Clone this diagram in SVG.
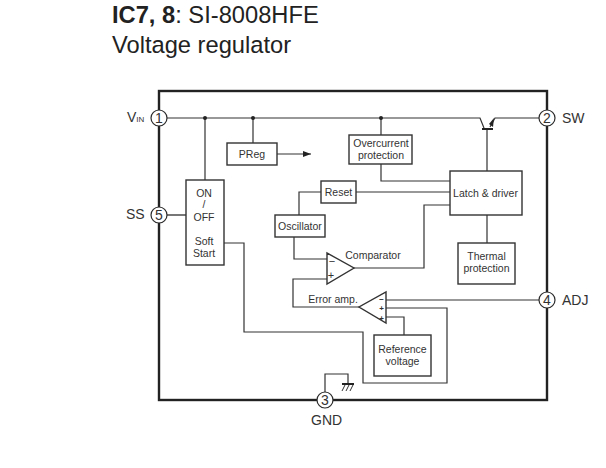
<svg xmlns="http://www.w3.org/2000/svg" width="606" height="468" viewBox="0 0 606 468">
<style>
text{font-family:"Liberation Sans",Arial,sans-serif;fill:#333}
.l{fill:none;stroke:#333;stroke-width:1.2}
.b{fill:#fff;stroke:#333;stroke-width:1.4}
.p{fill:#fff;stroke:#2a2a2a;stroke-width:1.2}
.t{font-size:10.500px;text-anchor:middle}
.n{font-size:14px;text-anchor:middle}
.s{font-size:14px}
.h{font-size:23.700px;fill:#222}
.g{font-size:11px;text-anchor:middle}
.e{font-size:8px;font-weight:bold;text-anchor:middle}
</style>
<rect width="606" height="468" fill="#fff"/>
<text class="h" x="112" y="23"><tspan font-weight="bold">IC7, 8</tspan>: SI-8008HFE</text>
<text class="h" x="112" y="53">Voltage regulator</text>
<g id="package"><rect x="159" y="91" width="388" height="309" fill="none" stroke="#222" stroke-width="2.400"/></g>
<g id="connectors">
<path class="l" d="M167 118H480L484 128M490 127L495 118H539M487 129V171M205 118V180M253 118V143M381 118V135M277 154H311M381 164V181H450M356 192H450M321 192H299V215M294 237V259H327M354 268H424V205H450M487 215V243M327 279H293V307H359M386 300H539M386 308H447V383H363V332H244V243H224M386 317H404V335M325 392V374H348V384"/>
<path d="M482 129H493" fill="none" stroke="#222" stroke-width="2"/>
<path d="M167 215H186" fill="none" stroke="#555" stroke-width="1.600"/>
<path d="M311 154L303 151V157Z" fill="#222"/>
<path d="M494 118L489 124L493 127Z" fill="#222"/>
<circle cx="205" cy="118" r="2" fill="#222"/><circle cx="253" cy="118" r="2" fill="#222"/><circle cx="381" cy="118" r="2" fill="#222"/>
<path d="M342 384H354" stroke="#222" stroke-width="2" fill="none"/>
<path d="M345 385L342 391M349 385L346 391M353 385L350 391" stroke="#333" fill="none"/>
</g>
<g id="pin1"><circle class="p" cx="159" cy="118" r="8"/><text class="n" x="159" y="123">1</text></g>
<g id="pin5"><circle class="p" cx="159" cy="215" r="8"/><text class="n" x="159" y="220">5</text></g>
<g id="pin2"><circle class="p" cx="547" cy="118" r="8"/><text class="n" x="547" y="123">2</text></g>
<g id="pin4"><circle class="p" cx="547" cy="300" r="8"/><text class="n" x="547" y="305">4</text></g>
<g id="pin3"><circle class="p" cx="325" cy="400" r="8"/><text class="n" x="325" y="405">3</text></g>
<g id="labels">
<text class="s" x="127" y="122">V<tspan font-size="8">IN</tspan></text>
<text class="s" x="126" y="219">SS</text>
<text class="s" x="562" y="123">SW</text>
<text class="s" x="562" y="305">ADJ</text>
<text class="s" x="311" y="425">GND</text>
</g>
<g id="onoff"><rect class="b" x="186" y="180" width="38" height="85"/>
<text class="t" x="204" y="197">ON</text><text class="t" x="204" y="208">/</text><text class="t" x="204" y="221">OFF</text><text class="t" x="204" y="245">Soft</text><text class="t" x="204" y="257">Start</text></g>
<g id="preg"><rect class="b" x="227" y="143" width="50" height="22"/><text class="t" x="252" y="158">PReg</text></g>
<g id="overcurrent"><rect class="b" x="349" y="135" width="63" height="29"/><text class="t" x="381" y="147">Overcurrent</text><text class="t" x="381" y="159">protection</text></g>
<g id="reset"><rect class="b" x="321" y="181" width="35" height="22"/><text class="t" x="338.500" y="196">Reset</text></g>
<g id="oscillator"><rect class="b" x="275" y="215" width="50" height="22"/><text class="t" x="300" y="230">Oscillator</text></g>
<g id="latch"><rect class="b" x="450" y="171" width="72" height="44"/><text class="t" x="485.500" y="197">Latch &amp; driver</text></g>
<g id="thermal"><rect class="b" x="458" y="243" width="57" height="41"/><text class="t" x="486.500" y="260">Thermal</text><text class="t" x="486.500" y="272">protection</text></g>
<g id="reference"><rect class="b" x="374" y="335" width="57" height="41"/><text class="t" x="402.500" y="353">Reference</text><text class="t" x="402.500" y="365">voltage</text></g>
<g id="comparator"><path class="b" d="M327 253V284L354 268Z"/><text class="g" x="332" y="265">−</text><text class="g" x="331" y="279">+</text><text class="t" x="373" y="259">Comparator</text></g>
<g id="erroramp"><path class="b" d="M386 292V323L359 307Z"/><text class="e" x="381.500" y="301.500">−</text><text class="e" x="381.500" y="311">+</text><text class="e" x="381.500" y="320.500">+</text><text class="t" x="333" y="303">Error amp.</text></g>
</svg>
